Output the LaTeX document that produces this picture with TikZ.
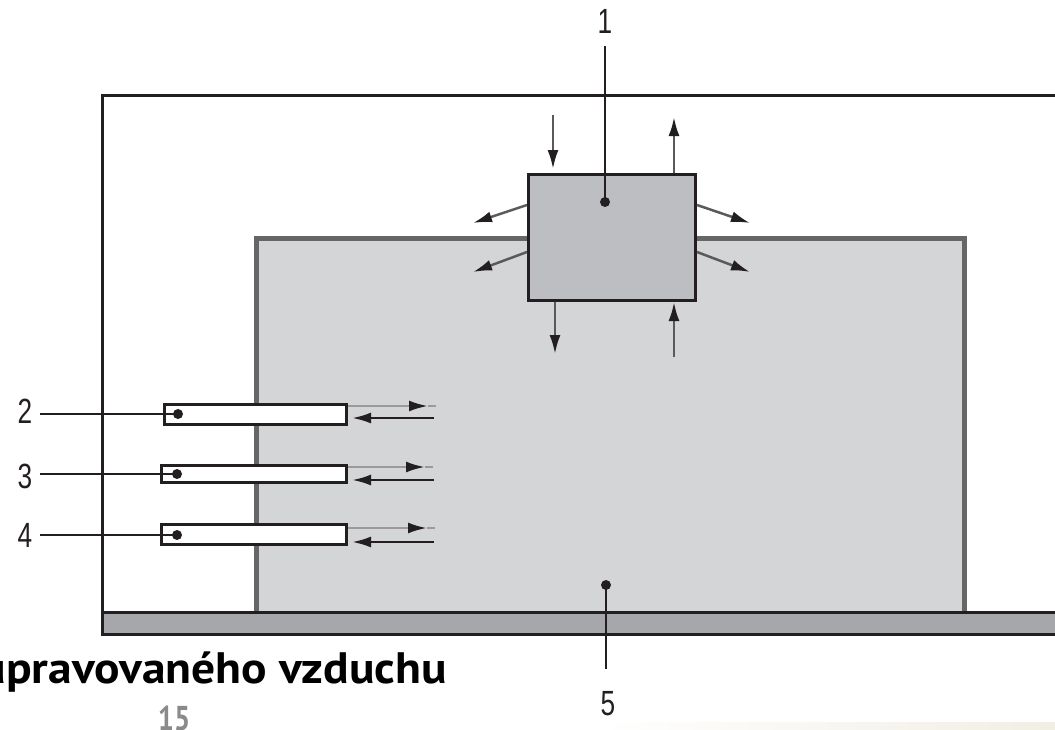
\documentclass[tikz,border=0pt]{standalone}
\usepackage{fontspec}
\setmainfont{Liberation Sans}
\newfontfamily\capfont{PT Sans}
\usetikzlibrary{arrows.meta,calc}
\definecolor{ink}{HTML}{231F20}
\definecolor{roomfill}{HTML}{D4D5D7}
\definecolor{roomedge}{HTML}{666666}
\definecolor{floorgray}{HTML}{A6A7AA}
\definecolor{unitgray}{HTML}{BDBEC1}
\definecolor{arrowgray}{HTML}{5A5A5A}
\definecolor{arrowlight}{HTML}{9A9A9A}
\definecolor{pagegray}{HTML}{8A8A8A}
\definecolor{beige}{HTML}{F1EEE4}
\tikzset{
  unitbox/.style={draw=ink, line width=3pt, fill=unitgray, minimum width=167pt, minimum height=126pt, inner sep=0pt},
  tubebox/.style={draw=ink, line width=3pt, fill=white, inner sep=0pt},
  arr/.style={draw=arrowgray, line width=2.5pt, -{Latex[length=19pt,width=11pt,color=ink]}},
  arrlt/.style={draw=arrowlight, line width=2.5pt, -{Latex[length=19pt,width=11pt,color=ink]}},
  leader/.style={draw=ink, line width=2.6pt},
  lbl/.style={inner sep=0pt, text=ink, font=\fontsize{35}{40}\selectfont},
  dotc/.style={fill=ink}
}
\newcommand{\narrow}[1]{\scalebox{0.75}[1]{#1}}
\begin{document}
\begin{tikzpicture}[x=1pt,y=-1pt]
\useasboundingbox (0,0) rectangle (1055,729);
\clip (0,0) rectangle (1055,729);
% faint strip at bottom
\shade[left color=white, right color=beige] (600,722) rectangle (1055,729);
% room
\draw[roomedge, line width=5pt, fill=roomfill] (256,238) rectangle (964,614);
% outer frame
\draw[ink, line width=3pt] (102,612) -- (102,95) -- (1070,95);
% floor
\draw[ink, line width=3pt, fill=floorgray] (102,612) rectangle (1070,634);

% unit 1
\node[unitbox] (b1) at (612,237.5) {};
% tubes 2-4
\node[tubebox, minimum width=182pt, minimum height=20pt] (b2) at (255.5,414.5) {};
\node[tubebox, minimum width=185pt, minimum height=17pt] (b3) at (254,474) {};
\node[tubebox, minimum width=185pt, minimum height=20pt] (b4) at (254,534.5) {};

% free arrow ends around unit 1
\coordinate (a1) at (553,115);
\coordinate (a2) at (674,117);
\coordinate (a3) at (473,223);
\coordinate (a4) at (473,272);
\coordinate (a5) at (750,223);
\coordinate (a6) at (750,272);
\coordinate (a7) at (555,354);
\coordinate (a8) at (674,357);
\draw[arr, shorten >=4pt] (a1) -- (a1 |- b1.north);
\draw[arr] (a2 |- b1.north) -- (a2);
\draw[arr] ($(b1.north west)+(0,32)$) -- (a3);
\draw[arr] ($(b1.north west)+(0,79)$) -- (a4);
\draw[arr] ($(b1.north east)+(0,32)$) -- (a5);
\draw[arr] ($(b1.north east)+(0,79)$) -- (a6);
\draw[arr] (a7 |- b1.south) -- (a7);
\draw[arr] (a8) -- (a8 |- b1.south);

% arrows at tubes
\coordinate (u2) at (428,406);
\coordinate (l2) at (434,418);
\coordinate (u3) at (425,467);
\coordinate (l3) at (434,480);
\coordinate (u4) at (427,528);
\coordinate (l4) at (434,542);
\foreach \k in {2,3,4}{
  \draw[arrowlight, line width=2.5pt] (u\k) -- ++(8,0);
  \draw[arrlt] (u\k -| b\k.east) -- (u\k);
  \draw[arr, draw=ink, shorten >=4pt] (l\k) -- (l\k -| b\k.east);
}

% dots
\coordinate (d1) at (605,202);
\coordinate (d2) at (178,414);
\coordinate (d3) at (177,474);
\coordinate (d4) at (177,535);
\coordinate (d5) at (606,585);
\foreach \k in {1,...,5}{ \fill[dotc] (d\k) circle (5pt); }

% labels
\node[lbl] (t1) at (605,21) {\narrow{1}};
\node[lbl] (t2) at (25,411) {\narrow{2}};
\node[lbl] (t3) at (25,476) {\narrow{3}};
\node[lbl] (t4) at (25,535) {\narrow{4}};
\node[lbl] (t5) at (608,704) {\narrow{5}};

% leaders
\draw[leader, shorten <=13pt] (t1.south) -- (d1);
\draw[leader, shorten <=8pt] (t2.east |- d2) -- (d2);
\draw[leader, shorten <=8pt] (t3.east |- d3) -- (d3);
\draw[leader, shorten <=8pt] (t4.east |- d4) -- (d4);
\draw[leader, shorten >=23pt] (d5) -- (d5 |- t5.north);

% caption fragment and page number
\node[anchor=base east, inner sep=0pt, font=\capfont\bfseries\fontsize{44}{50}\selectfont, text=black] (cap) at (447,683) {\scalebox{1.08}[1]{upravovaného vzduchu}};
\node[anchor=north, inner sep=0pt, font=\capfont\bfseries\fontsize{30}{34}\selectfont, text=pagegray] (pg) at (174,706) {\scalebox{0.95}[1.15]{15}};
\end{tikzpicture}
\end{document}
